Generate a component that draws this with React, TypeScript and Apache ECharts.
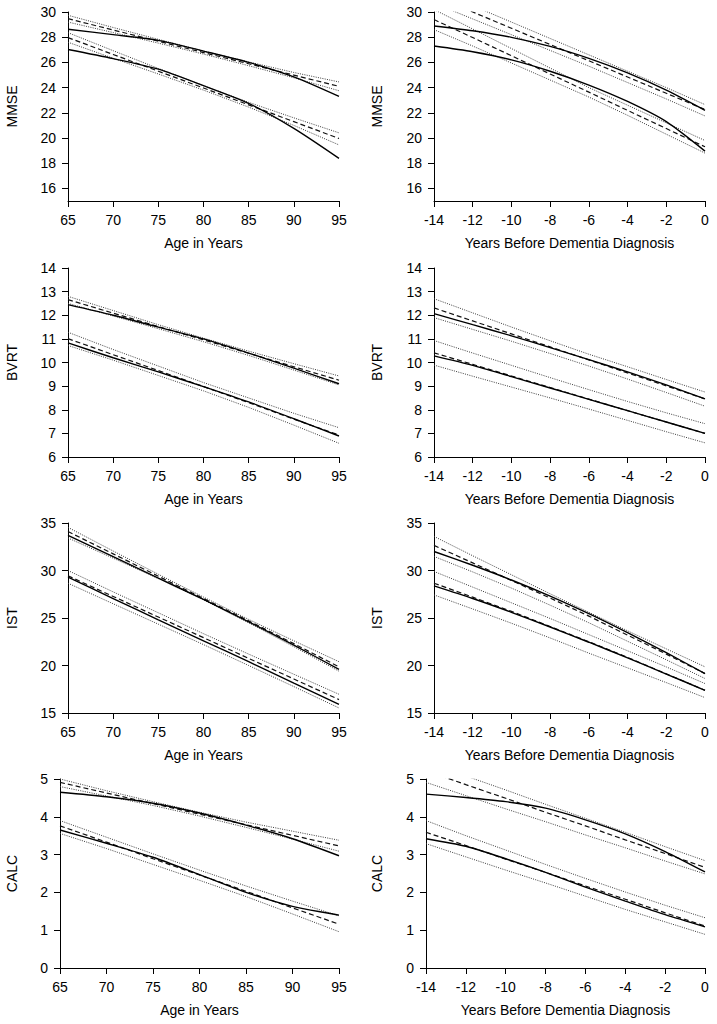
import React, { useEffect, useRef } from 'react';
import * as echarts from 'echarts';

// x positions
const ageX = [65, 70, 75, 80, 85, 90, 95];
const yrsX = [-14, -12, -10, -8, -6, -4, -2, 0];

// tick labels
const ageTicks = [65, 70, 75, 80, 85, 90, 95];
const yrsTicks = [-14, -12, -10, -8, -6, -4, -2, 0];
const mmseTicks = [16, 18, 20, 22, 24, 26, 28, 30];
const bvrtTicks = [6, 7, 8, 9, 10, 11, 12, 13, 14];
const istTicks = [15, 20, 25, 30, 35];
const calcTicks = [0, 1, 2, 3, 4, 5];

// MMSE by age
const mmseAgeHiSolid = [28.63, 28.2, 27.75, 26.9, 26.0, 24.85, 23.3];
const mmseAgeHiMean = [29.47, 28.57, 27.68, 26.78, 25.89, 24.99, 24.1];
const mmseAgeHiUpper = [29.74, 28.77, 27.83, 26.9, 26.04, 25.2, 24.45];
const mmseAgeHiLower = [29.2, 28.37, 27.53, 26.66, 25.74, 24.78, 23.75];
const mmseAgeLoSolid = [27.02, 26.3, 25.46, 24.15, 22.74, 20.76, 18.38];
const mmseAgeLoMean = [27.97, 26.63, 25.3, 23.97, 22.63, 21.3, 19.96];
const mmseAgeLoUpper = [28.36, 26.93, 25.52, 24.15, 22.83, 21.6, 20.41];
const mmseAgeLoLower = [27.6, 26.33, 25.08, 23.8, 22.45, 21.0, 19.45];

// MMSE by years before diagnosis
const mmseYrsHiSolid = [28.89, 28.51, 27.99, 27.27, 26.32, 25.17, 23.8, 22.2];
const mmseYrsHiMean = [31.29, 30.0, 28.71, 27.42, 26.13, 24.84, 23.55, 22.26];
const mmseYrsHiUpper = [31.8, 30.5, 29.2, 27.9, 26.6, 25.3, 24.0, 22.65];
const mmseYrsHiLower = [30.7, 29.45, 28.2, 26.95, 25.7, 24.4, 23.1, 21.75];
const mmseYrsLoSolid = [27.3, 26.85, 26.2, 25.3, 24.2, 22.9, 21.3, 18.96];
const mmseYrsLoMean = [29.4, 27.97, 26.53, 25.08, 23.64, 22.19, 20.75, 19.3];
const mmseYrsLoUpper = [30.2, 28.65, 27.1, 25.55, 24.0, 22.6, 21.2, 19.8];
const mmseYrsLoLower = [28.6, 27.3, 25.95, 24.6, 23.25, 21.8, 20.3, 18.8];

// BVRT by age
const bvrtAgeHiSolid = [12.45, 12.0, 11.5, 11.0, 10.4, 9.76, 9.1];
const bvrtAgeHiMean = [12.66, 12.09, 11.52, 10.96, 10.39, 9.82, 9.25];
const bvrtAgeHiUpper = [12.8, 12.2, 11.6, 11.03, 10.48, 9.95, 9.43];
const bvrtAgeHiLower = [12.5, 11.97, 11.43, 10.88, 10.3, 9.68, 9.05];
const bvrtAgeLoSolid = [10.83, 10.2, 9.6, 8.98, 8.33, 7.62, 6.89];
const bvrtAgeLoMean = [11.01, 10.33, 9.66, 8.98, 8.3, 7.6, 6.93];
const bvrtAgeLoUpper = [11.28, 10.55, 9.85, 9.15, 8.5, 7.85, 7.24];
const bvrtAgeLoLower = [10.72, 10.1, 9.45, 8.8, 8.1, 7.35, 6.58];

// BVRT by years before diagnosis
const bvrtYrsHiSolid = [12.07, 11.6, 11.13, 10.63, 10.12, 9.6, 9.05, 8.46];
const bvrtYrsHiMean = [12.31, 11.76, 11.21, 10.66, 10.11, 9.56, 9.01, 8.46];
const bvrtYrsHiUpper = [12.7, 12.1, 11.5, 10.92, 10.35, 9.82, 9.28, 8.75];
const bvrtYrsHiLower = [11.9, 11.4, 10.9, 10.38, 9.85, 9.3, 8.73, 8.15];
const bvrtYrsLoSolid = [10.28, 9.88, 9.4, 8.92, 8.44, 7.96, 7.48, 7.0];
const bvrtYrsLoMean = [10.41, 9.92, 9.43, 8.94, 8.45, 7.96, 7.48, 7.0];
const bvrtYrsLoUpper = [10.93, 10.4, 9.88, 9.36, 8.85, 8.35, 7.87, 7.41];
const bvrtYrsLoLower = [9.89, 9.42, 8.96, 8.5, 8.03, 7.55, 7.07, 6.6];

// IST by age
const istAgeHiSolid = [33.7, 31.45, 29.2, 26.95, 24.6, 22.15, 19.58];
const istAgeHiMean = [34.1, 31.75, 29.4, 27.05, 24.7, 22.3, 19.86];
const istAgeHiUpper = [34.54, 32.05, 29.6, 27.2, 24.85, 22.6, 20.4];
const istAgeHiLower = [33.42, 31.3, 29.15, 26.9, 24.5, 21.98, 19.4];
const istAgeLoSolid = [29.3, 27.05, 24.8, 22.6, 20.4, 18.15, 15.92];
const istAgeLoMean = [29.44, 27.27, 25.1, 22.93, 20.75, 18.58, 16.41];
const istAgeLoUpper = [30.0, 27.75, 25.55, 23.35, 21.2, 19.08, 16.97];
const istAgeLoLower = [28.66, 26.5, 24.35, 22.2, 20.0, 17.78, 15.53];

// IST by years before diagnosis
const istYrsHiSolid = [32.0, 30.55, 29.0, 27.3, 25.45, 23.45, 21.35, 19.15];
const istYrsHiMean = [32.64, 30.8, 28.95, 27.1, 25.2, 23.2, 21.2, 19.15];
const istYrsHiUpper = [33.59, 31.55, 29.55, 27.55, 25.6, 23.65, 21.75, 19.86];
const istYrsHiLower = [31.48, 29.85, 28.15, 26.35, 24.5, 22.55, 20.6, 18.63];
const istYrsLoSolid = [28.38, 27.05, 25.6, 24.05, 22.45, 20.8, 19.1, 17.39];
const istYrsLoMean = [28.66, 27.2, 25.7, 24.1, 22.5, 20.85, 19.12, 17.39];
const istYrsLoUpper = [29.9, 28.25, 26.6, 24.95, 23.25, 21.55, 19.85, 18.1];
const istYrsLoLower = [27.43, 25.95, 24.45, 22.9, 21.3, 19.75, 18.2, 16.62];

// CALC by age
const calcAgeHiSolid = [4.65, 4.53, 4.36, 4.1, 3.78, 3.42, 2.97];
const calcAgeHiMean = [4.91, 4.63, 4.35, 4.07, 3.79, 3.51, 3.23];
const calcAgeHiUpper = [5.0, 4.69, 4.4, 4.12, 3.86, 3.62, 3.38];
const calcAgeHiLower = [4.8, 4.55, 4.3, 4.02, 3.72, 3.41, 3.09];
const calcAgeLoSolid = [3.65, 3.3, 2.93, 2.47, 2.0, 1.63, 1.4];
const calcAgeLoMean = [3.76, 3.33, 2.89, 2.46, 2.03, 1.59, 1.16];
const calcAgeLoUpper = [3.9, 3.46, 3.02, 2.59, 2.17, 1.77, 1.38];
const calcAgeLoLower = [3.56, 3.16, 2.74, 2.32, 1.89, 1.43, 0.96];

// CALC by years before diagnosis
const calcYrsHiSolid = [4.6, 4.51, 4.4, 4.23, 3.92, 3.55, 3.08, 2.54];
const calcYrsHiMean = [5.22, 4.85, 4.49, 4.12, 3.76, 3.39, 3.03, 2.66];
const calcYrsHiUpper = [5.46, 5.08, 4.71, 4.33, 3.96, 3.59, 3.21, 2.84];
const calcYrsHiLower = [4.91, 4.56, 4.21, 3.87, 3.52, 3.18, 2.83, 2.49];
const calcYrsLoSolid = [3.42, 3.22, 2.89, 2.53, 2.14, 1.77, 1.41, 1.09];
const calcYrsLoMean = [3.59, 3.24, 2.88, 2.53, 2.17, 1.82, 1.46, 1.11];
const calcYrsLoUpper = [3.9, 3.5, 3.12, 2.74, 2.37, 2.01, 1.66, 1.33];
const calcYrsLoLower = [3.29, 2.94, 2.59, 2.25, 1.9, 1.55, 1.22, 0.89];

const FONT = '"Liberation Sans", Arial, Helvetica, sans-serif';

type Panel = {
  kind: 'age' | 'yrs';
  yName: string;
  yMin: number;
  yMax: number;
  yTicks: number[];
  lines: number[][]; // solid, mean, upper, lower for hi, then lo
};

const panels: Panel[] = [
  { kind: 'age', yName: 'MMSE', yMin: 15, yMax: 30, yTicks: mmseTicks,
    lines: [mmseAgeHiSolid, mmseAgeHiMean, mmseAgeHiUpper, mmseAgeHiLower, mmseAgeLoSolid, mmseAgeLoMean, mmseAgeLoUpper, mmseAgeLoLower] },
  { kind: 'yrs', yName: 'MMSE', yMin: 15, yMax: 30, yTicks: mmseTicks,
    lines: [mmseYrsHiSolid, mmseYrsHiMean, mmseYrsHiUpper, mmseYrsHiLower, mmseYrsLoSolid, mmseYrsLoMean, mmseYrsLoUpper, mmseYrsLoLower] },
  { kind: 'age', yName: 'BVRT', yMin: 6, yMax: 14, yTicks: bvrtTicks,
    lines: [bvrtAgeHiSolid, bvrtAgeHiMean, bvrtAgeHiUpper, bvrtAgeHiLower, bvrtAgeLoSolid, bvrtAgeLoMean, bvrtAgeLoUpper, bvrtAgeLoLower] },
  { kind: 'yrs', yName: 'BVRT', yMin: 6, yMax: 14, yTicks: bvrtTicks,
    lines: [bvrtYrsHiSolid, bvrtYrsHiMean, bvrtYrsHiUpper, bvrtYrsHiLower, bvrtYrsLoSolid, bvrtYrsLoMean, bvrtYrsLoUpper, bvrtYrsLoLower] },
  { kind: 'age', yName: 'IST', yMin: 15, yMax: 35, yTicks: istTicks,
    lines: [istAgeHiSolid, istAgeHiMean, istAgeHiUpper, istAgeHiLower, istAgeLoSolid, istAgeLoMean, istAgeLoUpper, istAgeLoLower] },
  { kind: 'yrs', yName: 'IST', yMin: 15, yMax: 35, yTicks: istTicks,
    lines: [istYrsHiSolid, istYrsHiMean, istYrsHiUpper, istYrsHiLower, istYrsLoSolid, istYrsLoMean, istYrsLoUpper, istYrsLoLower] },
  { kind: 'age', yName: 'CALC', yMin: 0, yMax: 5, yTicks: calcTicks,
    lines: [calcAgeHiSolid, calcAgeHiMean, calcAgeHiUpper, calcAgeHiLower, calcAgeLoSolid, calcAgeLoMean, calcAgeLoUpper, calcAgeLoLower] },
  { kind: 'yrs', yName: 'CALC', yMin: 0, yMax: 5, yTicks: calcTicks,
    lines: [calcYrsHiSolid, calcYrsHiMean, calcYrsHiUpper, calcYrsHiLower, calcYrsLoSolid, calcYrsLoMean, calcYrsLoUpper, calcYrsLoLower] },
];

// layout (pixels)
const layout = [
  { left: 68, top: 12, width: 271, height: 189, yGap: 49 },
  { left: 434, top: 12, width: 271, height: 189, yGap: 50 },
  { left: 68, top: 268, width: 271, height: 189, yGap: 49 },
  { left: 434, top: 268, width: 271, height: 189, yGap: 50 },
  { left: 68, top: 523, width: 271, height: 190, yGap: 49 },
  { left: 434, top: 523, width: 271, height: 190, yGap: 50 },
  { left: 60, top: 779, width: 279, height: 189, yGap: 41 },
  { left: 426, top: 779, width: 279, height: 189, yGap: 42 },
];

function buildOption() {
  const grid: any[] = [];
  const xAxis: any[] = [];
  const yAxis: any[] = [];
  const series: any[] = [];
  const textStyle = { fontFamily: FONT, fontSize: 14, color: '#000' };
  panels.forEach((p, i) => {
    const L = layout[i];
    grid.push({ left: L.left, top: L.top, width: L.width, height: L.height, containLabel: false });
    const xs = p.kind === 'age' ? ageX : yrsX;
    const xt = p.kind === 'age' ? ageTicks : yrsTicks;
    xAxis.push({
      type: 'value', gridIndex: i,
      min: xt[0], max: xt[xt.length - 1],
      axisLine: { show: true, onZero: false, lineStyle: { color: '#000', width: 1 } },
      axisTick: { show: true, length: 6, customValues: xt, lineStyle: { color: '#000', width: 1 } },
      axisLabel: { customValues: xt, margin: 12, ...textStyle },
      splitLine: { show: false },
      name: p.kind === 'age' ? 'Age in Years' : 'Years Before Dementia Diagnosis',
      nameLocation: 'middle', nameGap: 35, nameTextStyle: textStyle,
    });
    yAxis.push({
      type: 'value', gridIndex: i,
      min: p.yMin, max: p.yMax,
      axisLine: { show: true, onZero: false, lineStyle: { color: '#000', width: 1 } },
      axisTick: { show: true, length: 6, customValues: p.yTicks, lineStyle: { color: '#000', width: 1 } },
      axisLabel: { customValues: p.yTicks, margin: 12, ...textStyle },
      splitLine: { show: false },
      name: p.yName, nameLocation: 'middle', nameRotate: 90, nameGap: L.yGap, nameTextStyle: textStyle,
    });
    p.lines.forEach((vals, j) => {
      const role = j % 4; // 0 solid, 1 dashed, 2/3 dotted
      const lineStyle =
        role === 0 ? { color: '#000', width: 1.4, type: 'solid' } :
        role === 1 ? { color: '#111', width: 1.2, type: [5, 3] } :
        { color: '#3a3a3a', width: 1, type: [1, 1.3] };
      series.push({
        type: 'line', xAxisIndex: i, yAxisIndex: i,
        data: xs.map((x, k) => [x, vals[k]]),
        showSymbol: false, symbol: 'none',
        smooth: role === 0 ? 0.25 : false,
        clip: true,
        lineStyle, z: role === 0 ? 4 : role === 1 ? 3 : 2,
        silent: true,
      });
    });
  });
  return { animation: false, backgroundColor: '#fff', grid, xAxis, yAxis, series };
}

export default function App() {
  const ref = useRef<HTMLDivElement>(null);
  useEffect(() => {
    const chart = echarts.init(ref.current!, null, { renderer: 'svg' });
    chart.setOption(buildOption() as any);
    return () => chart.dispose();
  }, []);
  return (
    <div
      ref={ref}
      style={{ position: 'absolute', left: 0, top: 0, width: 717, height: 1024, background: '#fff' }}
    />
  );
}
